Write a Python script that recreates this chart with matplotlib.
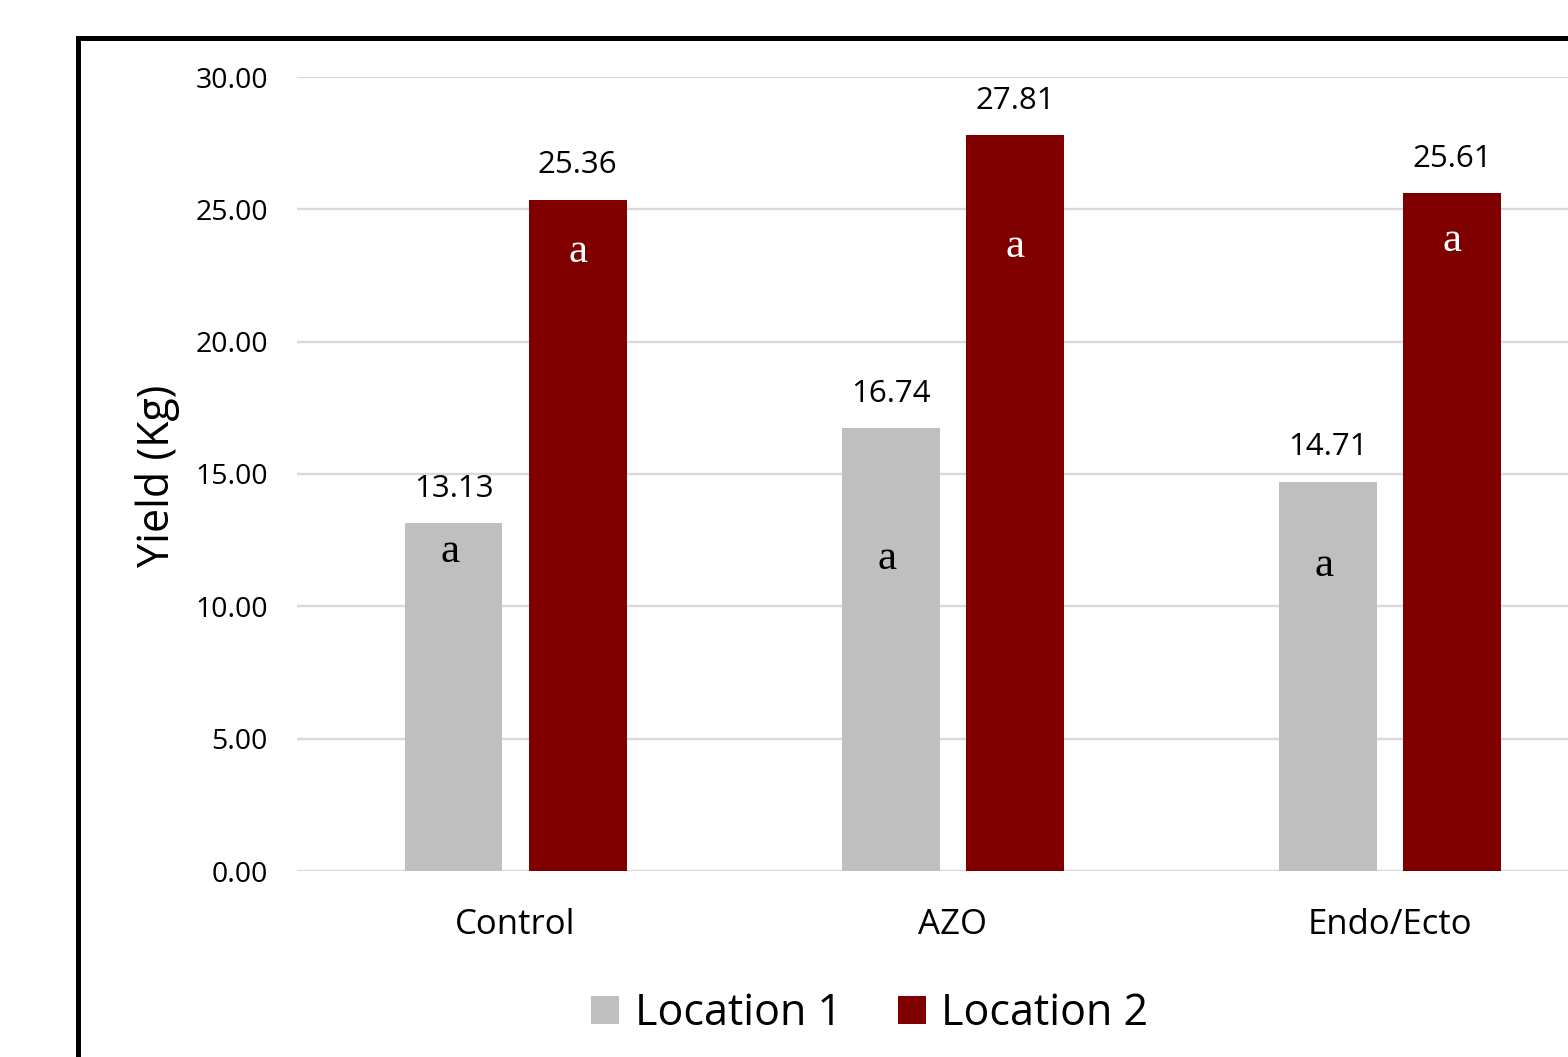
import matplotlib.pyplot as plt
from matplotlib.patches import Rectangle, Patch
import numpy as np

# --- data ---
treatments = ["Control", "AZO", "Endo/Ecto"]
location1 = [13.13, 16.74, 14.71]
location2 = [25.36, 27.81, 25.61]
letters1 = ["a", "a", "a"]
letters2 = ["a", "a", "a"]
# where the significance letters sit (y in Kg)
letter_y1 = [12.05, 11.8, 11.55]
letter_y2 = [23.4, 23.6, 23.8]

GREY = "#bfbfbf"
RED = "#800000"
GRID = "#d9d9d9"

plt.rcParams["font.family"] = ["Open Sans", "DejaVu Sans"]

W, H = 1568, 1057
fig = plt.figure(figsize=(W / 100, H / 100), dpi=100)

ax = fig.add_axes([297 / W, 1 - 871 / H, (W - 297) / W, (871 - 77) / H])

x = np.arange(len(treatments))
off = 0.142
bw = 0.224
ax.bar(x - off, location1, bw, color=GREY, zorder=3)
ax.bar(x + off, location2, bw, color=RED, zorder=3)

for i in range(len(treatments)):
    ax.text(x[i] - off, location1[i] + 1.3, f"{location1[i]:.2f}",
            ha="center", va="center", fontsize=22.5, color="black")
    ax.text(x[i] + off, location2[i] + 1.3, f"{location2[i]:.2f}",
            ha="center", va="center", fontsize=22.5, color="black")
    ax.text(x[i] - off - 0.008, letter_y1[i], letters1[i], ha="center", va="center",
            fontsize=31, family="Liberation Serif", color="black", zorder=4)
    ax.text(x[i] + off, letter_y2[i], letters2[i], ha="center", va="center",
            fontsize=31, family="Liberation Serif", color="white", zorder=4)

ax.set_xlim(-0.5, 2.407)
ax.set_ylim(0, 30)
ax.set_yticks(np.arange(0, 31, 5))
ax.set_yticklabels([f"{v:.2f}" for v in np.arange(0, 31, 5)])
ax.set_xticks(x)
ax.set_xticklabels(treatments)
ax.tick_params(axis="y", length=0, pad=21, labelsize=20.5)
ax.tick_params(axis="x", length=0, pad=27, labelsize=25)
ax.grid(axis="y", color=GRID, lw=1.7, zorder=0)
ax.set_axisbelow(True)
for s in ax.spines.values():
    s.set_visible(False)

fig.text(157 / W, 1 - 476 / H, "Yield (Kg)", rotation=90, ha="center",
         va="center", fontsize=31)

# outer chart border (cropped at right and bottom)
border = Rectangle((78 / W, -0.1), 1.2, 1 - 38 / H + 0.1, transform=fig.transFigure,
                   fill=False, edgecolor="black", lw=3.6, clip_on=False)
fig.add_artist(border)

handles = [Patch(facecolor=GREY), Patch(facecolor=RED)]
fig.legend(handles, ["Location 1", "Location 2"], loc="center",
           bbox_to_anchor=(870 / W, 1 - 1014 / H), ncol=2, frameon=False,
           fontsize=31, handlelength=0.65, handleheight=0.65,
           handletextpad=0.36, columnspacing=1.3)

fig.savefig("out.png", dpi=100)
